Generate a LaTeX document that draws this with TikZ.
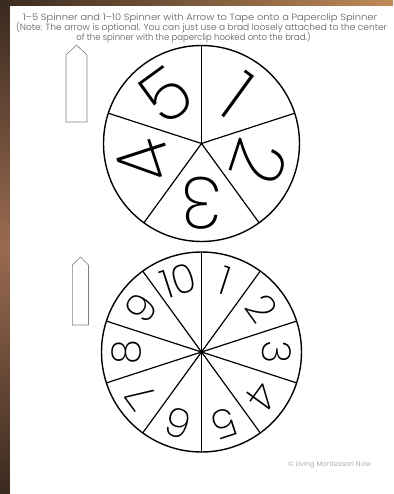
\documentclass[tikz,border=0pt]{standalone}
\usepackage{fontspec}
\usetikzlibrary{calc}
\setmainfont{Poppins}[UprightFont=* Light]
\newfontfamily\digitfont{Poppins}[UprightFont=* ExtraLight]
\definecolor{bgdark}{HTML}{3A2A1F}
\definecolor{bgmid}{HTML}{9A6A50}
\definecolor{bgtan}{HTML}{C08A58}
\definecolor{titlegray}{HTML}{5A5A5A}
\definecolor{copygray}{HTML}{9A9A9A}
\definecolor{arrowgray}{HTML}{808080}
\tikzset{
  wheel/.style={line width=1.4pt, draw=black},
  spoke/.style={line width=1.2pt, draw=black},
  bigdigit/.style={font=\digitfont\fontsize{72}{72}\selectfont, inner sep=0pt},
  smalldigit/.style={font=\digitfont\fontsize{40}{40}\selectfont, inner sep=0pt},
  titletext/.style={font=\fontsize{9}{10}\selectfont, text=titlegray, inner sep=0pt},
  pointer/.style={draw=arrowgray, line width=0.6pt, fill=white},
}
\begin{document}
\begin{tikzpicture}[x=1pt,y=1pt]
\useasboundingbox (0,0) rectangle (393,-494);
% background
\shade[top color=bgdark, bottom color=bgdark, middle color=bgmid] (0,0) rectangle (10,-494);
\shade[left color=bgdark, right color=bgtan] (0,0) rectangle (393,-6);
\fill[white] (10,-6) rectangle (393,-494);
% title
\node[titletext, xscale=1.10] (t1) at (200,-18) {1--5 Spinner and 1--10 Spinner with Arrow to Tape onto a Paperclip Spinner};
\node[titletext, xscale=1.005] (t2) at (201.5,-27.5) {(Note: The arrow is optional. You can just use a brad loosely attached to the center};
\node[titletext, xscale=0.94] (t3) at (193.5,-37) {of the spinner with the paperclip hooked onto the brad.)};
% arrows
\draw[pointer] (66,-122) -- (66,-55) -- (76.5,-45) -- (87,-55) -- (87,-122) -- cycle;
\draw[pointer] (72.3,-325) -- (72.3,-265) -- (80.5,-257) -- (88.5,-265) -- (88.5,-325) -- cycle;
% top spinner
\coordinate (T) at (201.5,-143.5);
\draw[wheel] (T) circle[radius=98];
\foreach \a in {90,18,-54,-126,162} \draw[spoke] (T) -- ++(\a:98);
\foreach \n/\a in {1/54,2/-18,3/-90,4/-162,5/126}
  \node[bigdigit, rotate=\a-90] (td\n) at ($(T)+(\a:60)$) {\n};
% bottom spinner
\coordinate (B) at (201.5,-352);
\draw[wheel] (B) circle[radius=100];
\foreach \a in {90,54,18,-18,-54} \draw[spoke] ($(B)+(\a:100)$) -- ($(B)+(\a+180:100)$);
\fill (B) circle[radius=2.2];
\foreach \n in {1,...,10} {
  \pgfmathsetmacro{\ang}{72-36*(\n-1)}
  \node[smalldigit, rotate=\ang-90] (bd\n) at ($(B)+(\ang:75)$) {\n};
}
% copyright
\node[font=\fontsize{7}{8}\selectfont, text=copygray, inner sep=0pt] (copy) at (329.5,-465) {\textcopyright{} Living Montessori Now};
\end{tikzpicture}
\end{document}
